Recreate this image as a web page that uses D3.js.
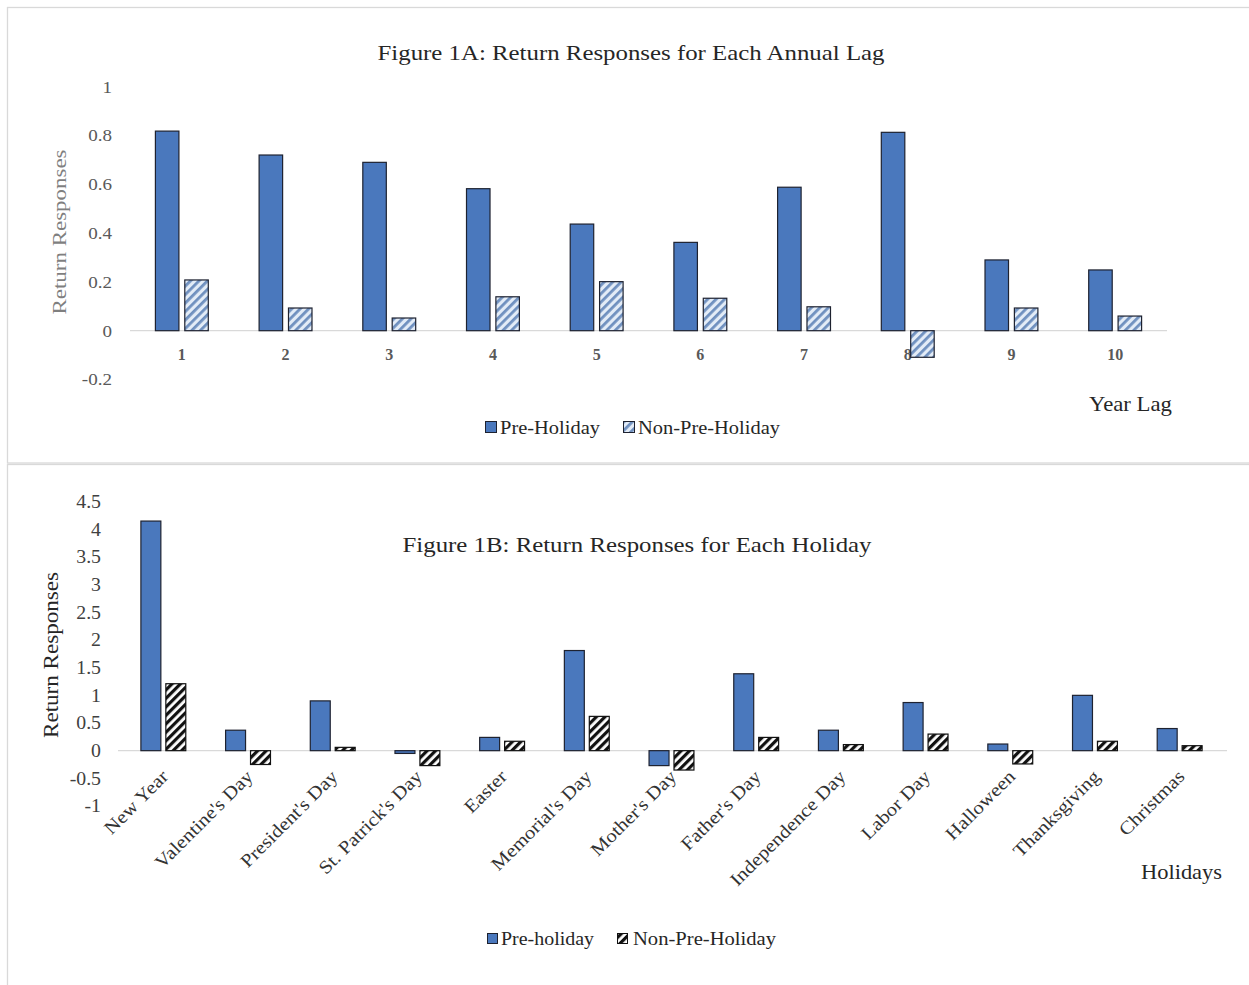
<!DOCTYPE html>
<html>
<head>
<meta charset="utf-8">
<script src="https://cdn.jsdelivr.net/npm/d3@7"></script>
<style>
  html, body { margin: 0; padding: 0; background: #fff; }
  svg { display: block; }
  text { font-family: "Liberation Serif", "Times New Roman", serif; }
</style>
</head>
<body>
<svg id="chart" width="1249" height="985"></svg>
<script>
// ---- Figure 1A data: return responses by annual lag ----
const lags = ["1", "2", "3", "4", "5", "6", "7", "8", "9", "10"];
const lagPre = [0.818, 0.72, 0.69, 0.582, 0.437, 0.362, 0.588, 0.813, 0.29, 0.249];
const lagNonPre = [0.208, 0.093, 0.052, 0.139, 0.201, 0.133, 0.098, -0.109, 0.093, 0.06];
const lagTicks = [-0.2, 0, 0.2, 0.4, 0.6, 0.8, 1];

// ---- Figure 1B data: return responses by holiday ----
const holidays = ["New Year", "Valentine's Day", "President's Day", "St. Patrick's Day", "Easter",
  "Memorial's Day", "Mother's Day", "Father's Day", "Independence Day", "Labor Day",
  "Halloween", "Thanksgiving", "Christmas"];
const holPre = [4.15, 0.37, 0.9, -0.05, 0.24, 1.81, -0.27, 1.39, 0.37, 0.87, 0.12, 1.0, 0.4];
const holNonPre = [1.21, -0.25, 0.06, -0.27, 0.17, 0.62, -0.35, 0.24, 0.11, 0.3, -0.24, 0.17, 0.09];
const holTicks = [-1, -0.5, 0, 0.5, 1, 1.5, 2, 2.5, 3, 3.5, 4, 4.5];

const svg = d3.select("#chart");
const BLUE = "#4a78bd";
const STROKE = "#1e2230";
const GRID = "#d9d9d9";
// plain hyphen for negative tick values
const fmt = v => d3.format("~g")(v).replace("\u2212", "-");

// widen text a little so the serif face runs as wide as a Garamond setting
function stretch(sel, k) {
  sel.each(function () {
    const w = this.getComputedTextLength();
    this.setAttribute("textLength", w * k);
    this.setAttribute("lengthAdjust", "spacingAndGlyphs");
  });
  return sel;
}
function fit(sel, width) {
  sel.attr("textLength", width).attr("lengthAdjust", "spacingAndGlyphs");
  return sel;
}

// ---- hatch patterns ----
const defs = svg.append("defs");
const pA = defs.append("pattern").attr("id", "hatchA").attr("patternUnits", "userSpaceOnUse")
  .attr("width", 6).attr("height", 6).attr("patternTransform", "rotate(45)");
pA.append("rect").attr("width", 6).attr("height", 6).attr("fill", "#e3ecf7");
pA.append("rect").attr("width", 2.8).attr("height", 6).attr("fill", "#6f90bf");

const pB = defs.append("pattern").attr("id", "hatchB").attr("patternUnits", "userSpaceOnUse")
  .attr("width", 6).attr("height", 6).attr("patternTransform", "rotate(45)");
pB.append("rect").attr("width", 6).attr("height", 6).attr("fill", "#ffffff");
pB.append("rect").attr("width", 3.2).attr("height", 6).attr("fill", "#111111");

// ---- panel frames ----
svg.append("rect").attr("x", 7.5).attr("y", 7.5).attr("width", 1250).attr("height", 455.5)
  .attr("fill", "none").attr("stroke", GRID).attr("stroke-width", 1.3);
svg.append("rect").attr("x", 7.5).attr("y", 464.5).attr("width", 1250).attr("height", 530)
  .attr("fill", "none").attr("stroke", GRID).attr("stroke-width", 1.3);

// =========================== Figure 1A ===========================
(function () {
  const g = svg.append("g");
  const x0 = d3.scaleBand().domain(lags).range([130, 1167]).paddingInner(0.49).paddingOuter(0.245);
  const x1 = d3.scaleBand().domain(["pre", "non"]).range([0, x0.bandwidth()]).paddingInner(0.2);
  const y = d3.scaleLinear().domain([-0.2, 1]).range([379.5, 86.7]);

  // zero line
  g.append("line").attr("x1", 130).attr("x2", 1167).attr("y1", y(0)).attr("y2", y(0))
    .attr("stroke", GRID).attr("stroke-width", 1.3);

  // y axis labels
  const ya = g.append("g").attr("transform", "translate(130,0)")
    .call(d3.axisLeft(y).tickValues(lagTicks).tickSize(0).tickPadding(18).tickFormat(fmt));
  ya.select(".domain").remove();
  ya.selectAll("text").attr("font-size", 17).attr("fill", "#595959")
    .style("font-family", '"Liberation Serif", serif');
  stretch(ya.selectAll("text"), 1.12);

  // x axis labels
  const xa = g.append("g").attr("transform", `translate(0,${y(0)})`)
    .call(d3.axisBottom(x0).tickSize(0).tickPadding(18));
  xa.select(".domain").remove();
  xa.selectAll("text").attr("font-size", 16).attr("font-weight", "bold").attr("fill", "#595959")
    .style("font-family", '"Liberation Serif", serif');

  const rows = lags.map((k, i) => ({ k, pre: lagPre[i], non: lagNonPre[i] }));
  const grp = g.selectAll(".grp").data(rows).join("g").attr("transform", d => `translate(${x0(d.k)},0)`);
  grp.append("rect")
    .attr("x", x1("pre")).attr("width", x1.bandwidth())
    .attr("y", d => y(Math.max(0, d.pre))).attr("height", d => Math.abs(y(d.pre) - y(0)))
    .attr("fill", BLUE).attr("stroke", STROKE).attr("stroke-width", 1.2);
  grp.append("rect")
    .attr("x", x1("non")).attr("width", x1.bandwidth())
    .attr("y", d => y(Math.max(0, d.non))).attr("height", d => Math.abs(y(d.non) - y(0)))
    .attr("fill", "url(#hatchA)").attr("stroke", STROKE).attr("stroke-width", 1.2);

  // title
  fit(g.append("text").attr("x", 631).attr("y", 60).attr("text-anchor", "middle")
    .attr("font-size", 22).attr("fill", "#262626")
    .text("Figure 1A: Return Responses for Each Annual Lag"), 507);

  // y axis title
  fit(g.append("text").attr("transform", "translate(66,232) rotate(-90)").attr("text-anchor", "middle")
    .attr("font-size", 19).attr("fill", "#7f7f7f").text("Return Responses"), 165);

  // x axis title
  fit(g.append("text").attr("x", 1172).attr("y", 411).attr("text-anchor", "end")
    .attr("font-size", 21).attr("fill", "#262626").text("Year Lag"), 83);

  // legend
  const lg = g.append("g");
  lg.append("rect").attr("x", 485.5).attr("y", 421.5).attr("width", 11).attr("height", 11)
    .attr("fill", BLUE).attr("stroke", STROKE).attr("stroke-width", 1);
  fit(lg.append("text").attr("x", 500).attr("y", 434).attr("font-size", 19).attr("fill", "#262626")
    .text("Pre-Holiday"), 100);
  lg.append("rect").attr("x", 623.5).attr("y", 421.5).attr("width", 11).attr("height", 11)
    .attr("fill", "url(#hatchA)").attr("stroke", STROKE).attr("stroke-width", 1);
  fit(lg.append("text").attr("x", 638).attr("y", 434).attr("font-size", 19).attr("fill", "#262626")
    .text("Non-Pre-Holiday"), 142);
})();

// =========================== Figure 1B ===========================
(function () {
  const g = svg.append("g");
  const x0 = d3.scaleBand().domain(holidays).range([121, 1222]).paddingInner(0.47).paddingOuter(0.235);
  const x1 = d3.scaleBand().domain(["pre", "non"]).range([0, x0.bandwidth()]).paddingInner(0.2);
  const y = d3.scaleLinear().domain([-1, 4.5]).range([806, 501.7]);

  g.append("line").attr("x1", 118).attr("x2", 1227).attr("y1", y(0)).attr("y2", y(0))
    .attr("stroke", GRID).attr("stroke-width", 1.3);

  const ya = g.append("g").attr("transform", "translate(121,0)")
    .call(d3.axisLeft(y).tickValues(holTicks).tickSize(0).tickPadding(20).tickFormat(fmt));
  ya.select(".domain").remove();
  ya.selectAll("text").attr("font-size", 18).attr("fill", "#404040")
    .style("font-family", '"Liberation Serif", serif');
  stretch(ya.selectAll("text"), 1.1);

  // rotated holiday labels
  const xl = g.append("g").selectAll("text").data(holidays).join("text")
    .attr("transform", d => `translate(${x0(d) + x0.bandwidth() / 2 + 6},${y(0) + 27}) rotate(-45)`)
    .attr("text-anchor", "end").attr("font-size", 18.5).attr("fill", "#333333")
    .text(d => d);
  stretch(xl, 1.12);

  const rows = holidays.map((k, i) => ({ k, pre: holPre[i], non: holNonPre[i] }));
  const grp = g.selectAll(".grp").data(rows).join("g").attr("transform", d => `translate(${x0(d.k)},0)`);
  grp.append("rect")
    .attr("x", x1("pre")).attr("width", x1.bandwidth())
    .attr("y", d => y(Math.max(0, d.pre))).attr("height", d => Math.abs(y(d.pre) - y(0)))
    .attr("fill", BLUE).attr("stroke", STROKE).attr("stroke-width", 1.2);
  grp.append("rect")
    .attr("x", x1("non")).attr("width", x1.bandwidth())
    .attr("y", d => y(Math.max(0, d.non))).attr("height", d => Math.abs(y(d.non) - y(0)))
    .attr("fill", "url(#hatchB)").attr("stroke", "#111").attr("stroke-width", 1.2);

  fit(g.append("text").attr("x", 637).attr("y", 552).attr("text-anchor", "middle")
    .attr("font-size", 22).attr("fill", "#262626")
    .text("Figure 1B: Return Responses for Each Holiday"), 469);

  fit(g.append("text").attr("transform", "translate(58,655) rotate(-90)").attr("text-anchor", "middle")
    .attr("font-size", 20).attr("fill", "#262626").text("Return Responses"), 166);

  fit(g.append("text").attr("x", 1222).attr("y", 879).attr("text-anchor", "end")
    .attr("font-size", 21).attr("fill", "#262626").text("Holidays"), 81);

  const lg = g.append("g");
  lg.append("rect").attr("x", 487.5).attr("y", 933.5).attr("width", 10).attr("height", 10)
    .attr("fill", BLUE).attr("stroke", STROKE).attr("stroke-width", 1);
  fit(lg.append("text").attr("x", 501).attr("y", 945).attr("font-size", 19).attr("fill", "#262626")
    .text("Pre-holiday"), 93);
  lg.append("rect").attr("x", 617.5).attr("y", 933.5).attr("width", 10).attr("height", 10)
    .attr("fill", "url(#hatchB)").attr("stroke", "#111").attr("stroke-width", 1);
  fit(lg.append("text").attr("x", 633).attr("y", 945).attr("font-size", 19).attr("fill", "#262626")
    .text("Non-Pre-Holiday"), 143);
})();
</script>
</body>
</html>
